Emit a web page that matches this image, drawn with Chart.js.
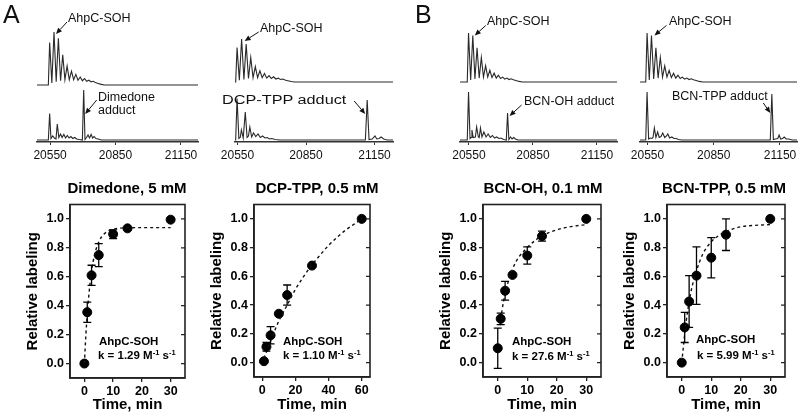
<!DOCTYPE html>
<html>
<head>
<meta charset="utf-8">
<script src="https://cdn.jsdelivr.net/npm/chart.js@4.4.1/dist/chart.umd.min.js"></script>
<style>
  html, body { margin: 0; padding: 0; background: #fff; }
  #fig { position: relative; width: 800px; height: 414px; overflow: hidden;
         font-family: 'Liberation Sans', Arial, sans-serif; color: #111; }
  canvas { position: absolute; }
  .t { position: absolute; white-space: nowrap; line-height: 1; z-index: 2; }
  .panel { font-size: 25px; }
  .ann { font-size: 12.5px; }
  .title { font-size: 15px; font-weight: bold; width: 220px; text-align: center; color: #000; }
  .kin { font-size: 11.5px; font-weight: bold; color: #000; }
  .kin span { font-size: 7.5px; vertical-align: 4px; }
</style>
</head>
<body>
<div id="fig">
  <div class="t panel" style="left:3px;top:2px">A</div>
  <div class="t panel" style="left:415px;top:2px">B</div>

  <div class="t ann" style="left:68px;top:12px">AhpC-SOH</div>
  <div class="t ann" style="left:98px;top:91px">Dimedone</div>
  <div class="t ann" style="left:98px;top:104px">adduct</div>
  <div class="t ann" style="left:260px;top:22px">AhpC-SOH</div>
  <div class="t ann" style="left:222px;top:94px;transform:scaleX(1.3);transform-origin:left">DCP-TPP adduct</div>
  <div class="t ann" style="left:487px;top:15px">AhpC-SOH</div>
  <div class="t ann" style="left:524px;top:95px">BCN-OH adduct</div>
  <div class="t ann" style="left:669px;top:15px">AhpC-SOH</div>
  <div class="t ann" style="left:672px;top:90px">BCN-TPP adduct</div>

  <div class="t title" style="left:17px;top:180px">Dimedone, 5 mM</div>
  <div class="t title" style="left:207px;top:180px">DCP-TPP, 0.5 mM</div>
  <div class="t title" style="left:433px;top:180px">BCN-OH, 0.1 mM</div>
  <div class="t title" style="left:614px;top:180px">BCN-TPP, 0.5 mM</div>

  <div class="t kin" style="left:99px;top:336px">AhpC-SOH</div>
  <div class="t kin" style="left:98px;top:349px">k = 1.29 M<span>-1</span> s<span>-1</span></div>
  <div class="t kin" style="left:283px;top:336px">AhpC-SOH</div>
  <div class="t kin" style="left:283px;top:349px">k = 1.10 M<span>-1</span> s<span>-1</span></div>
  <div class="t kin" style="left:512px;top:336px">AhpC-SOH</div>
  <div class="t kin" style="left:512px;top:350px">k = 27.6 M<span>-1</span> s<span>-1</span></div>
  <div class="t kin" style="left:696px;top:334px">AhpC-SOH</div>
  <div class="t kin" style="left:697px;top:349px">k = 5.99 M<span>-1</span> s<span>-1</span></div>
</div>
<script>
Chart.defaults.font.family = "'Liberation Sans', Arial, sans-serif";
Chart.defaults.color = '#111';
Chart.defaults.animation = false;

// ---------- mass spectra (top row) ----------
const massTicks = [20550, 20850, 21150];

// AhpC-SOH, untreated (upper traces)
const ahpcMass = [20470, 20542, 20548, 20558, 20568, 20578, 20588, 20598, 20608, 20618, 20628, 20638, 20648, 20658, 20668, 20678, 20688, 20698, 20708, 20718, 20728, 20738, 20748, 20758, 20770, 20785, 20800, 21300];
const ahpcIntA = [0, 0, 0.80, 0.04, 1.00, 0.06, 0.88, 0.08, 0.57, 0.10, 0.36, 0.10, 0.26, 0.10, 0.20, 0.09, 0.15, 0.08, 0.12, 0.07, 0.09, 0.06, 0.07, 0.045, 0.03, 0.012, 0, 0];
const ahpcIntB = [0, 0, 1.00, 0.04, 0.95, 0.06, 0.70, 0.08, 0.50, 0.10, 0.33, 0.10, 0.24, 0.09, 0.18, 0.08, 0.14, 0.07, 0.10, 0.06, 0.08, 0.05, 0.065, 0.045, 0.03, 0.012, 0, 0];

// after probe (lower traces)
const dimedoneMass = [20470, 20542, 20548, 20554, 20562, 20570, 20577, 20583, 20590, 20598, 20605, 20613, 20621, 20629, 20637, 20645, 20654, 20663, 20672, 20684, 20698, 20704, 20710, 20717, 20724, 20731, 20738, 20745, 20752, 20760, 20770, 20785, 21300];
const dimedoneInt = [0, 0, 0.53, 0.03, 0.08, 0.04, 0.02, 0.32, 0.05, 0.12, 0.05, 0.11, 0.04, 0.09, 0.04, 0.07, 0.03, 0.05, 0.02, 0.01, 0, 1.00, 0.01, 0.05, 0.10, 0.04, 0.11, 0.04, 0.07, 0.03, 0.02, 0, 0];

const dcpMass = [20470, 20542, 20548, 20556, 20562, 20567, 20575, 20584, 20592, 20598, 20604, 20612, 20620, 20630, 20640, 20650, 20660, 20670, 20680, 20690, 20700, 20715, 20735, 21110, 21118, 21126, 21140, 21152, 21160, 21170, 21179, 21190, 21205, 21300];
const dcpInt = [0, 0, 0.83, 0.03, 0.05, 0.20, 0.04, 0.56, 0.05, 0.08, 0.26, 0.06, 0.14, 0.07, 0.12, 0.05, 0.08, 0.04, 0.05, 0.02, 0.03, 0.01, 0, 0, 0.80, 0.01, 0.02, 0.08, 0.02, 0.03, 0.06, 0.02, 0, 0];

const bcnohMass = [20470, 20542, 20548, 20555, 20560, 20564, 20570, 20580, 20586, 20594, 20598, 20604, 20611, 20620, 20630, 20640, 20650, 20660, 20670, 20680, 20690, 20700, 20712, 20725, 20731, 20737, 20745, 20752, 20760, 20768, 20780, 21300];
const bcnohInt = [0, 0, 0.96, 0.03, 0.05, 0.20, 0.05, 0.06, 0.26, 0.06, 0.05, 0.24, 0.06, 0.16, 0.06, 0.12, 0.05, 0.09, 0.04, 0.06, 0.03, 0.04, 0.01, 0, 0.54, 0.01, 0.06, 0.02, 0.05, 0.02, 0, 0];

const bcntppMass = [20470, 20542, 20548, 20555, 20562, 20570, 20575, 20581, 20588, 20596, 20603, 20611, 20619, 20628, 20636, 20642, 20650, 20660, 20670, 20680, 20690, 20705, 21106, 21113, 21120, 21130, 21140, 21146, 21153, 21162, 21169, 21178, 21190, 21205, 21300];
const bcntppInt = [0, 0, 0.96, 0.02, 0.04, 0.03, 0.05, 0.24, 0.05, 0.16, 0.05, 0.07, 0.14, 0.05, 0.08, 0.12, 0.04, 0.06, 0.03, 0.03, 0.01, 0, 0, 0.92, 0.01, 0.02, 0.03, 0.10, 0.02, 0.03, 0.06, 0.02, 0.02, 0, 0];

// ---------- labeling kinetics (bottom row) ----------
const labelTicks = [0, 0.2, 0.4, 0.6, 0.8, 1.0];
const timeTicks30 = [0, 10, 20, 30];
const timeTicks60 = [0, 20, 40, 60];

const dimTime = [0, 1, 2.5, 5, 10, 15, 30];
const dimLabel = [0, 0.355, 0.61, 0.75, 0.895, 0.935, 0.995];
const dimErr = [0, 0.07, 0.07, 0.08, 0.03, 0, 0];
const dimFitTime = [0, 0.5, 1, 1.5, 2, 3, 4, 5, 6, 8, 10, 12, 15, 20, 25, 30];
const dimFitLabel = [0, 0.19, 0.34, 0.46, 0.56, 0.70, 0.785, 0.84, 0.877, 0.914, 0.93, 0.936, 0.939, 0.94, 0.94, 0.94];

const dcpTime = [1, 2.5, 5, 10, 15, 30, 60];
const dcpLabel = [0.01, 0.11, 0.19, 0.34, 0.47, 0.675, 1.0];
const dcpErr = [0, 0.03, 0.06, 0, 0.07, 0, 0];
const dcpFitTime = [1, 5, 10, 15, 20, 25, 30, 35, 40, 45, 50, 55, 60];
const dcpFitLabel = [0.03, 0.15, 0.29, 0.40, 0.51, 0.60, 0.68, 0.75, 0.815, 0.87, 0.92, 0.96, 1.0];

const bcnohTime = [0, 1, 2.5, 5, 10, 15, 30];
const bcnohLabel = [0.10, 0.305, 0.50, 0.61, 0.745, 0.88, 1.0];
const bcnohErr = [0.14, 0.04, 0.065, 0, 0.06, 0.035, 0];
const bcnohFitTime = [0.8, 1.5, 2.5, 3.5, 5, 7, 10, 13, 15, 18, 22, 26, 30];
const bcnohFitLabel = [0.26, 0.37, 0.48, 0.56, 0.65, 0.73, 0.80, 0.855, 0.88, 0.91, 0.935, 0.95, 0.96];

const bcntppTime = [0, 1, 2.5, 5, 10, 15, 30];
const bcntppLabel = [0, 0.245, 0.425, 0.605, 0.73, 0.89, 1.0];
const bcntppErr = [0, 0.105, 0.18, 0.2, 0.14, 0.11, 0];
const bcntppFitTime = [0, 0.5, 1, 2, 3, 4, 5, 7, 10, 13, 16, 20, 25, 30];
const bcntppFitLabel = [0, 0.1, 0.2, 0.36, 0.48, 0.57, 0.64, 0.75, 0.84, 0.89, 0.92, 0.945, 0.955, 0.96];

const fig = document.getElementById('fig');
const pts = (xs, ys) => xs.map((x, i) => ({ x: x, y: ys[i] }));

function addCanvas(id, left, top, w, h) {
  const c = document.createElement('canvas');
  c.id = id; c.width = w; c.height = h;
  c.style.left = left + 'px'; c.style.top = top + 'px';
  c.style.width = w + 'px'; c.style.height = h + 'px';
  fig.insertBefore(c, fig.firstChild);
  return c;
}

// arrows point at a data value, with pixel offsets for tip and tail
function arrowPlugin(list) {
  return {
    id: 'arrows',
    afterDatasetsDraw(chart) {
      const ctx = chart.ctx, xs = chart.scales.x, ys = chart.scales.y;
      ctx.save();
      ctx.strokeStyle = '#111'; ctx.fillStyle = '#111'; ctx.lineWidth = 1;
      list.forEach(a => {
        const px = xs.getPixelForValue(a.x), py = ys.getPixelForValue(a.y);
        const x1 = px + a.tail[0], y1 = py + a.tail[1];
        const x2 = px + a.tip[0], y2 = py + a.tip[1];
        const ang = Math.atan2(y2 - y1, x2 - x1), hl = 6, hw = 2.6;
        const bx = x2 - hl * Math.cos(ang), by = y2 - hl * Math.sin(ang);
        ctx.beginPath(); ctx.moveTo(x1, y1); ctx.lineTo(bx, by); ctx.stroke();
        ctx.beginPath(); ctx.moveTo(x2, y2);
        ctx.lineTo(bx + hw * Math.sin(ang), by - hw * Math.cos(ang));
        ctx.lineTo(bx - hw * Math.sin(ang), by + hw * Math.cos(ang));
        ctx.closePath(); ctx.fill();
      });
      ctx.restore();
    }
  };
}

const errorBarPlugin = {
  id: 'errorBars',
  afterDatasetsDraw(chart) {
    const ctx = chart.ctx, ys = chart.scales.y;
    chart.data.datasets.forEach((ds, i) => {
      if (!ds.err) return;
      const meta = chart.getDatasetMeta(i);
      ctx.save(); ctx.strokeStyle = '#000'; ctx.lineWidth = 1.3;
      meta.data.forEach((pt, j) => {
        const e = ds.err[j]; if (!e) return;
        const v = ds.data[j].y;
        const yt = ys.getPixelForValue(v + e), yb = ys.getPixelForValue(v - e);
        ctx.beginPath();
        ctx.moveTo(pt.x, yt); ctx.lineTo(pt.x, yb);
        ctx.moveTo(pt.x - 4, yt); ctx.lineTo(pt.x + 4, yt);
        ctx.moveTo(pt.x - 4, yb); ctx.lineTo(pt.x + 4, yb);
        ctx.stroke();
      });
      ctx.restore();
    });
  }
};

const framePlugin = {
  id: 'frame',
  afterDraw(chart) {
    const a = chart.chartArea, ctx = chart.ctx, ys = chart.scales.y;
    ctx.save();
    ctx.strokeStyle = '#222'; ctx.lineWidth = 1.6;
    ctx.strokeRect(a.left, a.top, a.right - a.left, a.bottom - a.top);
    ctx.lineWidth = 1.2;
    ctx.beginPath();
    labelTicks.forEach(v => {
      const y = ys.getPixelForValue(v);
      ctx.moveTo(a.right, y); ctx.lineTo(a.right - 4, y);
    });
    ctx.stroke();
    ctx.restore();
  }
};

// pixel layout of the spectrum panels
const specLayout = [
  { left: 37, right: 198, xMin: 20490, xMax: 21228, upBase: 85, upTop: 32 },
  { left: 235, right: 393, xMin: 20539, xMax: 21231, upBase: 82, upTop: 39 },
  { left: 460, right: 617, xMin: 20508, xMax: 21244, upBase: 82, upTop: 33 },
  { left: 640, right: 797, xMin: 20516, xMax: 21227, upBase: 82, upTop: 33 }
];

function spectrum(id, p, mass, inten, upper, arrows) {
  const pad = 20;
  const top = upper ? 0 : 86;
  const h = upper ? p.upBase + 2 : 84;
  const c = addCanvas(id, p.left - pad, top, p.right - p.left + 2 * pad, h);
  return new Chart(c, {
    type: 'scatter',
    data: { datasets: [{
      data: pts(mass, inten), showLine: true, pointRadius: 0,
      borderColor: '#2a2a2a', borderWidth: 1.1, tension: 0,
      clip: { left: 0, right: 0, top: 12, bottom: 3 }
    }] },
    options: {
      responsive: false, events: [],
      layout: { padding: upper ? { left: pad, right: pad, top: p.upTop, bottom: 2 }
                               : { left: pad, right: pad, top: 4, bottom: 0 } },
      plugins: { legend: { display: false }, tooltip: { enabled: false } },
      scales: {
        x: {
          type: 'linear', min: p.xMin, max: p.xMax, display: !upper,
          afterBuildTicks: a => { a.ticks = massTicks.map(v => ({ value: v })); },
          afterFit: a => { if (!upper) a.height = 28; },
          grid: { drawOnChartArea: false, tickLength: 3, color: '#333' },
          border: { color: '#333', width: 1.5 },
          ticks: { font: { size: 12 }, color: '#111', padding: 3, maxRotation: 0, autoSkip: false,
                   callback: v => String(v) }
        },
        y: { display: false, min: upper ? 0 : -0.04, max: 1 }
      }
    },
    plugins: [arrowPlugin(arrows)]
  });
}

spectrum('s1u', specLayout[0], ahpcMass, ahpcIntA, true, [{ x: 20568, y: 1.0, tip: [2, 2], tail: [13, -10] }]);
spectrum('s1l', specLayout[0], dimedoneMass, dimedoneInt, false, [{ x: 20704, y: 1.0, tip: [1.5, 24], tail: [13, 10] }]);
spectrum('s2u', specLayout[1], ahpcMass, ahpcIntA, true, [{ x: 20568, y: 1.0, tip: [3, 2], tail: [17, -7] }]);
spectrum('s2l', specLayout[1], dcpMass, dcpInt, false, [{ x: 21118, y: 0.8, tip: [-2, 14], tail: [-13, 1] }]);
spectrum('s3u', specLayout[2], ahpcMass, ahpcIntB, true, [{ x: 20568, y: 0.95, tip: [2, 0], tail: [13, -10] }]);
spectrum('s3l', specLayout[2], bcnohMass, bcnohInt, false, [{ x: 20731, y: 0.54, tip: [2, 3], tail: [14, -8] }]);
spectrum('s4u', specLayout[3], ahpcMass, ahpcIntB, true, [{ x: 20568, y: 0.95, tip: [3, 0], tail: [15, -10] }]);
spectrum('s4l', specLayout[3], bcntppMass, bcntppInt, false, [{ x: 21113, y: 0.92, tip: [-1.5, 19], tail: [-8.5, 9] }]);

// pixel layout of the kinetics panels (plot box edges)
function kinetics(id, k) {
  const c = addCanvas(id, k.L - 50, 195, k.R - k.L + 62, 219);
  const axisFont = { size: 15, weight: 'bold' };
  const tickFont = { size: 12.5, weight: 'bold' };
  return new Chart(c, {
    type: 'scatter',
    data: { datasets: [
      { data: pts(k.fitT, k.fitY), showLine: true, pointRadius: 0, borderColor: '#111',
        borderWidth: 1.4, borderDash: [3, 3], cubicInterpolationMode: 'monotone' },
      { data: pts(k.t, k.y), err: k.err, pointRadius: 4.5, pointBackgroundColor: '#000',
        pointBorderColor: '#000', showLine: false, clip: false }
    ] },
    options: {
      responsive: false, events: [],
      layout: { padding: { top: k.T - 195, right: 12, left: 0, bottom: 0 } },
      plugins: { legend: { display: false }, tooltip: { enabled: false } },
      scales: {
        x: {
          type: 'linear', min: k.xMin, max: k.xMax,
          afterBuildTicks: a => { a.ticks = k.xTicks.map(v => ({ value: v })); },
          afterFit: a => { a.height = 414 - k.B; },
          grid: { drawOnChartArea: false, tickLength: 4, color: '#222', lineWidth: 1.3 },
          border: { color: '#222', width: 1.6 },
          ticks: { font: tickFont, color: '#000', padding: 2, maxRotation: 0, autoSkip: false },
          title: { display: true, text: 'Time, min', font: axisFont, color: '#000', padding: { top: 0, bottom: 0 } }
        },
        y: {
          type: 'linear', min: -0.1, max: 1.1,
          afterBuildTicks: a => { a.ticks = labelTicks.map(v => ({ value: v })); },
          afterFit: a => { a.width = 50; },
          grid: { drawOnChartArea: false, tickLength: 4, color: '#222', lineWidth: 1.3 },
          border: { color: '#222', width: 1.6 },
          ticks: { font: tickFont, color: '#000', padding: 2, callback: v => v.toFixed(1) },
          title: { display: true, text: 'Relative labeling', font: axisFont, color: '#000', padding: { top: 4, bottom: 0 } }
        }
      }
    },
    plugins: [errorBarPlugin, framePlugin]
  });
}

kinetics('k1', { L: 70, R: 185, T: 203, B: 378, xMin: -5, xMax: 35, xTicks: timeTicks30,
  t: dimTime, y: dimLabel, err: dimErr, fitT: dimFitTime, fitY: dimFitLabel });
kinetics('k2', { L: 254, R: 370, T: 201, B: 377, xMin: -5, xMax: 65, xTicks: timeTicks60,
  t: dcpTime, y: dcpLabel, err: dcpErr, fitT: dcpFitTime, fitY: dcpFitLabel });
kinetics('k3', { L: 483, R: 601, T: 202, B: 377, xMin: -5, xMax: 35, xTicks: timeTicks30,
  t: bcnohTime, y: bcnohLabel, err: bcnohErr, fitT: bcnohFitTime, fitY: bcnohFitLabel });
kinetics('k4', { L: 667, R: 785, T: 202, B: 377, xMin: -5, xMax: 35, xTicks: timeTicks30,
  t: bcntppTime, y: bcntppLabel, err: bcntppErr, fitT: bcntppFitTime, fitY: bcntppFitLabel });
</script>
</body>
</html>
